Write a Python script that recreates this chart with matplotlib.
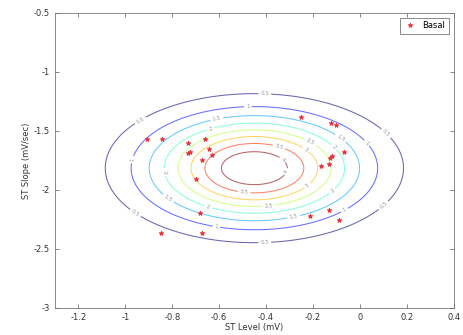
import numpy as np
import matplotlib
matplotlib.use("Agg")
import matplotlib.pyplot as plt
from matplotlib.ticker import FuncFormatter

# Scatter data: "Basal" points (ST Level, ST Slope)
st_level = [-0.909, -0.842, -0.731, -0.661, -0.642, -0.735, -0.725, -0.629,
            -0.674, -0.701, -0.682, -0.674, -0.850, -0.250, -0.122, -0.103,
            -0.068, -0.120, -0.128, -0.134, -0.167, -0.213, -0.134, -0.089]
st_slope = [-1.568, -1.572, -1.599, -1.570, -1.654, -1.689, -1.678, -1.706,
            -1.742, -1.909, -2.197, -2.367, -2.367, -1.384, -1.432, -1.449,
            -1.675, -1.712, -1.725, -1.781, -1.799, -2.218, -2.172, -2.257]

# Density model shown as contours
mean_level = -0.45
mean_slope = -1.815
sigma_level = 0.304
sigma_slope = 0.302
peak = 4.45
levels = [0.5, 1.0, 1.5, 2.0, 2.5, 3.0, 3.5, 4.0]
# angles (deg) where each contour carries a label
label_angles = {
    0.5: [86, 140, 28, -86, -30, -143],
    1.0: [93, 172, 24, -108, -43],
    1.5: [111, -145, 35, -68],
    2.0: [119, 185, -121, 28, -30],
    2.5: [43, -79],
    3.0: [36, -33],
    3.5: [60, -102],
    4.0: [31, -13],
}

xticks = [-1.2, -1.0, -0.8, -0.6, -0.4, -0.2, 0.0, 0.2, 0.4]
yticks = [-3.0, -2.5, -2.0, -1.5, -1.0, -0.5]

fig = plt.figure(figsize=(4.64, 3.35), dpi=100)
ax = fig.add_axes([0.1185, 0.0806, 0.8595, 0.8806])

gx = np.linspace(-1.3, 0.4, 500)
gy = np.linspace(-3.0, -0.5, 500)
X, Y = np.meshgrid(gx, gy)
Z = peak * np.exp(-0.5 * (((X - mean_level) / sigma_level) ** 2 +
                          ((Y - mean_slope) / sigma_slope) ** 2))
cs = ax.contour(X, Y, Z, levels=levels, cmap='jet', linewidths=0.75, alpha=0.6)

manual = []
for lev, angs in label_angles.items():
    r = np.sqrt(2 * np.log(peak / lev))
    for a in angs:
        t = np.deg2rad(a)
        manual.append((mean_level + sigma_level * r * np.cos(t),
                       mean_slope + sigma_slope * r * np.sin(t)))
ax.clabel(cs, inline=True, fontsize=4, fmt='%g', colors='#555555',
          manual=manual, inline_spacing=2)

ax.plot(st_level, st_slope, linestyle='none', marker='*', color='#e8323c',
        markersize=3.5, markeredgewidth=0.6, label='Basal')

ax.set_xlim(-1.3, 0.4)
ax.set_ylim(-3.0, -0.5)
ax.set_xticks(xticks)
ax.set_yticks(yticks)
fmt = FuncFormatter(lambda v, p: '%g' % round(v, 2))
ax.xaxis.set_major_formatter(fmt)
ax.yaxis.set_major_formatter(fmt)
ax.tick_params(direction='in', top=True, right=True, labelsize=6,
               length=3, width=0.5, colors='#555555', labelcolor='#333333')
for s in ax.spines.values():
    s.set_linewidth(0.6)
    s.set_color('#777777')
ax.set_xlabel('ST Level (mV)', fontsize=6, color='#333333', labelpad=1)
ax.set_ylabel('ST Slope (mV/sec)', fontsize=6, color='#333333', labelpad=2)

leg = ax.legend(loc='upper right', fontsize=6, frameon=True, fancybox=False,
                borderaxespad=0.6, handletextpad=0.8, borderpad=0.4,
                handlelength=1.5)
leg.get_frame().set_edgecolor('#555555')
leg.get_frame().set_linewidth(0.6)

fig.savefig('out.png', dpi=100)
